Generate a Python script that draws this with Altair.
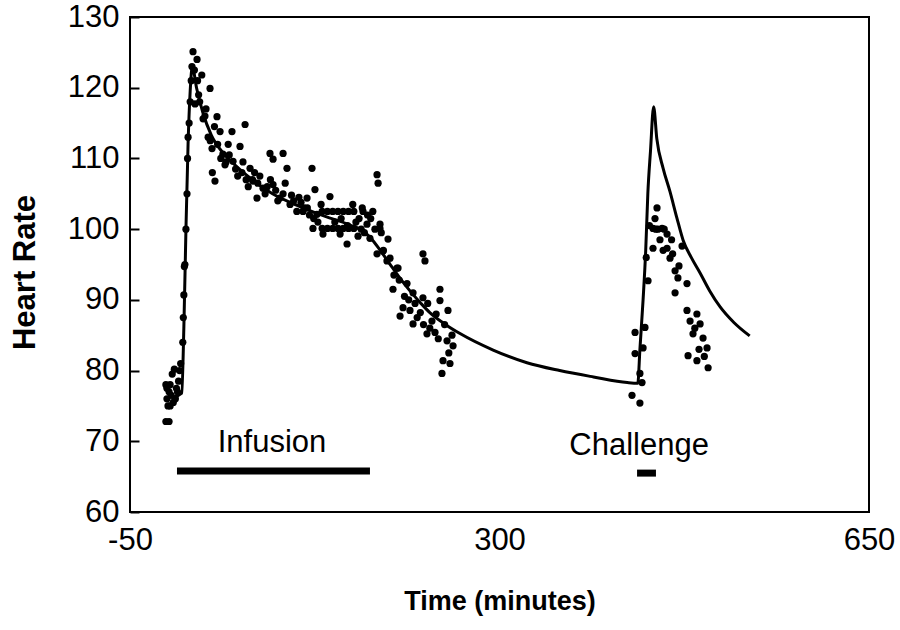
import altair as alt
import pandas as pd

# ---- model (solid curve) ----
curve_t = [-8, -1, 1, 3, 5, 7, 9, 13, 19, 27, 38, 50, 64, 85, 111, 135, 158, 172,
           180, 188, 196, 205, 215, 225, 234, 248, 263, 294, 326, 357, 389, 421, 431,
           433, 436, 438.5, 440.5, 443, 446, 449, 455, 461.5, 468, 474, 482, 490, 499,
           509, 522, 537]
curve_hr = [76.3, 76.8, 86, 100, 112, 119.5, 123, 120, 116.5, 113.3, 110.8, 109, 107.2,
            105, 103.2, 101.8, 100.6, 99.6, 98.4, 96.8, 95.1, 93.2, 91.3, 89.6, 88.2,
            86.6, 85.2, 82.9, 81.1, 80.0, 79.1, 78.3, 78.2, 83, 90, 97, 105, 111, 117.3,
            112.8, 108.6, 105.3, 101.6, 98.4, 95.9, 93.8, 91.3, 89.0, 86.8, 84.9]

# ---- observed heart rate (dots) ----
obs_t = [-16, -15, -13, -12, -10, -8, -14, -12, -9, -7, -5, -4, -16, -13, -3, -2,
         -15, -11, -6,
         0, 0.5, 1, 1.5, 2, 3, 4, 4.5, 5, 6, 7, 8, 9.7, 13.5, 8.7, 11,
         18, 25.8, 11.6, 19.2, 32.4, 35.3, 46.6, 59, 27.7, 38, 54.2, 47.6, 28, 30.5,
         40, 63.7, 82.6, 95, 98.7, 85.5, 122.4, 66.5, 76, 70.3, 85.5, 92, 101.6,
         125.2, 139.4, 117.7, 113.9, 127.1,
         132, 137, 142, 147, 152, 157, 162, 132, 137, 142, 147, 152, 157, 162,
         161, 180, 184, 185, 174.5, 186.8, 149, 155.6, 132.8, 123.3, 177.3,
         15, 22, 30, 43, 50, 56, 60, 68, 73, 80, 88, 95, 105, 108, 110, 115, 120, 128,
         167, 170, 175, 166, 172, 178, 182, 188, 190, 184,
         14, 16, 21, 24, 26, 33, 36, 41, 44, 52, 57, 62, 66, 71, 78, 83, 90, 97,
         103, 112, 118, 124, 131, 144, 150, 156, 164, 169,
         170.7, 186.8, 194.4, 189.7, 193.4, 202.9, 199.1, 212.4, 218.1, 227.5,
         243.6, 243.6, 208.6, 215.2, 251.2, 205.8, 218.1, 231.3, 238.9, 250.3,
         256, 246.5, 253.1, 245.5, 205, 210, 220, 225, 232, 236, 240, 248, 255,
         228, 200, 196.3, 203.9, 227.5, 229.4, 214, 222, 234, 242, 252,
         425.5, 433, 435, 433, 428.4, 436, 428.4, 437.8, 440.7, 445.4, 445.4,
         447.3, 449.2, 454, 458.7, 458.7, 461.5, 466.3, 469, 477.6, 466.3, 472.9,
         477.6, 487, 480.5, 490, 483.3, 492.8, 496.6, 478.6, 487, 497.6, 450,
         452, 455, 463, 439, 442, 448, 456, 464, 470, 485, 489, 494]
obs_hr = [78, 77.5, 77, 78, 79.5, 80.2, 75, 75, 75.5, 76, 77, 78.5, 72.8, 72.8, 80, 81,
          76, 76.5, 77.5,
          84, 87.5, 90.7, 94.7, 95, 100, 105, 110, 113, 115, 118, 121, 125.1, 124, 123, 122.5,
          121.8, 119.9, 117.7, 115.6, 115.9, 113.8, 113.8, 114.8, 111.4, 110.6, 111.7,
          109.6, 108, 106.8, 109.1, 108.6, 110.7, 110.7, 108.6, 109.9, 108.6, 106.8,
          105.8, 104.4, 106.3, 104.4, 103.5, 105.6, 104.6, 104.4, 102.5, 102.1,
          102.5, 102.5, 102.5, 102.5, 102.5, 102.5, 102.5, 100.1, 100.1, 100.1,
          100.1, 100.1, 100.1, 100.1,
          103.5, 102.5, 107.7, 106.5, 100.7, 100.7, 99.3, 97.9, 99.3, 100.1, 98.7,
          119, 117, 114.5, 112, 108.5, 108, 107, 108, 107.5, 106, 105.5, 105, 104,
          102.5, 104.5, 103, 102, 101, 101.5, 103, 102, 99, 99.5, 101.5, 100, 99.5,
          97, 96.5,
          121, 118, 116, 113, 112.5, 112, 110, 109.5, 110.5, 107.5, 109.5, 106, 107,
          106.5, 105, 107, 104, 106.5, 104.8, 103.8, 103, 101.5, 103.5, 101, 101.5,
          100.5, 101, 100,
          102.5, 100.1, 98.6, 96.9, 95.5, 94.5, 91.5, 92.3, 91, 90.3, 91.5, 89.9,
          88.9, 88.5, 88.5, 87.7, 86.6, 85.2, 85.4, 84.2, 83.5, 81.4, 81, 79.6,
          92.8, 90.5, 89.5, 88.2, 89.5, 87, 88, 86.5, 85, 86.5, 93.5, 95.9, 94.5,
          96.5, 95.5, 90, 87.5, 86, 84.5, 82.5,
          76.5, 75.4, 78.3, 79.6, 82.4, 83.2, 85.4, 86.1, 92.7, 97.3, 100.1, 101.5,
          103, 100.1, 99.3, 97.3, 95.9, 94.1, 93.1, 92.3, 91, 97.6, 88.5, 88, 87,
          86.6, 85.2, 84.6, 83.2, 82.1, 81.4, 80.4, 100, 98.5, 97, 98.5, 96, 100.5,
          100, 100, 96.5, 94.8, 86, 83, 82]

# ---- infusion / challenge bars and labels ----
period_names = ["Infusion", "Challenge"]
period_start = [-5.5, 430.3]
period_end = [177.3, 448.2]
period_level = [65.8, 65.5]
label_t = [84.5, 432.2]
label_hr = [69.7, 69.3]

y_label_values = [60, 70, 80, 90, 100, 110, 120, 130]
x_label_values = [-50, 300, 650]

FONT = "Liberation Sans"

curve_df = pd.DataFrame({"t": curve_t, "hr": curve_hr})
obs_df = pd.DataFrame({"t": obs_t, "hr": obs_hr})
bar_df = pd.DataFrame({"name": period_names, "t": period_start, "t2": period_end,
                       "hr": period_level})
lab_df = pd.DataFrame({"name": period_names, "t": label_t, "hr": label_hr})

xscale = alt.Scale(domain=[-50, 650], nice=False, zero=False)
yscale = alt.Scale(domain=[60, 130], nice=False, zero=False)

xaxis = alt.Axis(values=x_label_values, ticks=False, domain=False, grid=False,
                 labelFontSize=31, labelFont=FONT, labelColor="black", labelPadding=13,
                 labelExpr="'' + datum.value",
                 title="Time (minutes)", titleFont=FONT, titleFontSize=27,
                 titleFontWeight="bold", titleColor="black", titleY=89,
                 titleBaseline="middle", labelFlush=False)
# axis pulled 9px inside the frame so that its ticks point inward
yaxis = alt.Axis(values=y_label_values, ticks=True, tickSize=9, tickWidth=2,
                 tickColor="black", offset=-9, domain=False, grid=False,
                 labelFontSize=31, labelFont=FONT, labelColor="black", labelPadding=11,
                 title="Heart Rate", titleFont=FONT, titleFontSize=31,
                 titleFontWeight="bold", titleColor="black", titleX=-114, titleY=255,
                 titleBaseline="middle", titleAngle=-90, labelFlush=False)

X = alt.X("t:Q", scale=xscale, axis=xaxis)
Y = alt.Y("hr:Q", scale=yscale, axis=yaxis)

line = alt.Chart(curve_df).mark_line(color="black", strokeWidth=3,
                                     interpolate="monotone").encode(x=X, y=Y, order="t:Q")
dots = alt.Chart(obs_df).mark_circle(color="black", size=52, opacity=1).encode(x=X, y=Y)
bars = alt.Chart(bar_df).mark_rule(color="black", strokeWidth=7, strokeCap="butt").encode(
    x=X, x2="t2:Q", y=Y)
labels = alt.Chart(lab_df).mark_text(font=FONT, fontSize=31, color="black",
                                     align="center", baseline="middle").encode(
    x=X, y=Y, text="name:N")

chart = alt.layer(line, dots, bars, labels).properties(
    width=739, height=495,
    autosize=alt.AutoSizeParams(type="none"),
    padding={"left": 130, "top": 17, "right": 31, "bottom": 118},
    background="white",
).configure_view(stroke="black", strokeWidth=2)

chart.save("out.html", embed_options={"renderer": "svg", "actions": False})
